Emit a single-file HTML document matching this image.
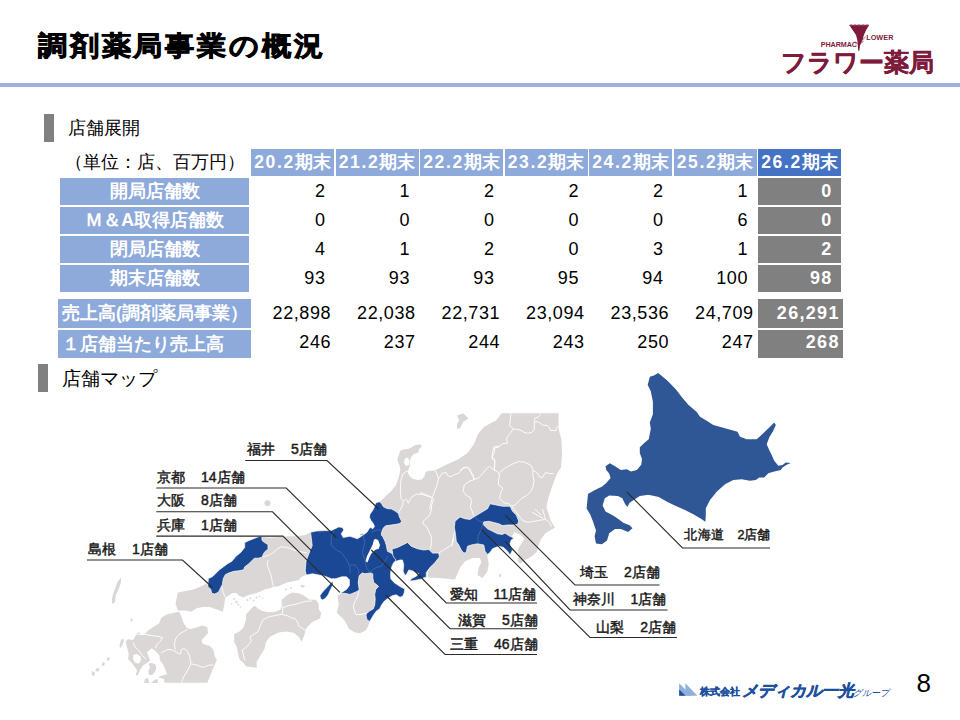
<!DOCTYPE html>
<html><head><meta charset="utf-8">
<style>
*{margin:0;padding:0;box-sizing:border-box}
html,body{width:960px;height:720px;overflow:hidden;background:#fff}
body{position:relative;font-family:"Liberation Sans",sans-serif;color:#000}
.abs{position:absolute}
#title{left:38px;top:27.5px;font-size:27px;font-weight:bold;white-space:nowrap;letter-spacing:2.45px;-webkit-text-stroke:0.8px #000;transform:scaleX(1.08);transform-origin:0 0}
#rule{left:0;top:83px;width:960px;height:4.2px;background:#9cb1dd}
.bar{background:#808080;width:10px;height:28px}
.sec{font-size:18px;white-space:nowrap}
.cell{position:absolute;height:27px;line-height:27px;font-size:17.5px;white-space:nowrap}
.n{letter-spacing:1.6px}
.hd{background:#8eaadb;color:#fff;font-weight:bold;text-align:center}
.hd7{background:#4472c4}
.lb{background:#8eaadb;color:#fff;font-weight:bold;text-align:center}
.v{text-align:right;padding-right:8.5px;font-size:18px;letter-spacing:0.6px}
.v2{padding-right:2.8px}
.l2{text-align:left;padding-left:4px}
.g{background:#808080;color:#fff;font-weight:bold;letter-spacing:1.3px}
.lbl{position:absolute;font-size:14px;font-weight:normal;color:#1a1a1a;white-space:nowrap;line-height:16px;-webkit-text-stroke:0.45px #1a1a1a}
.sp{display:inline-block;width:16px}
</style></head><body>
<div id="title" class="abs">調剤薬局事業の概況</div>
<div id="rule" class="abs"></div>
<div class="abs bar" style="left:44px;top:114px"></div>
<div class="abs sec" style="left:68px;top:116px">店舗展開</div>
<div class="abs" style="left:64.5px;top:150px;font-size:17.8px;white-space:nowrap">（単位：店、百万円）</div>
<div class="cell hd" style="left:251px;top:149px;width:83px"><span class="n">20.2</span>期末</div>
<div class="cell hd" style="left:335.5px;top:149px;width:83px"><span class="n">21.2</span>期末</div>
<div class="cell hd" style="left:420px;top:149px;width:83px"><span class="n">22.2</span>期末</div>
<div class="cell hd" style="left:504.5px;top:149px;width:83px"><span class="n">23.2</span>期末</div>
<div class="cell hd" style="left:589px;top:149px;width:83px"><span class="n">24.2</span>期末</div>
<div class="cell hd" style="left:673.5px;top:149px;width:83px"><span class="n">25.2</span>期末</div>
<div class="cell hd hd7" style="left:758px;top:149px;width:83px"><span class="n">26.2</span>期末</div>
<div class="cell lb" style="left:60px;top:178px;width:189px">開局店舗数</div>
<div class="cell v" style="left:251px;top:178px;width:83px">2</div>
<div class="cell v" style="left:335.5px;top:178px;width:83px">1</div>
<div class="cell v" style="left:420px;top:178px;width:83px">2</div>
<div class="cell v" style="left:504.5px;top:178px;width:83px">2</div>
<div class="cell v" style="left:589px;top:178px;width:83px">2</div>
<div class="cell v" style="left:673.5px;top:178px;width:83px">1</div>
<div class="cell v g" style="left:758px;top:178px;width:83px">0</div>
<div class="cell lb" style="left:60px;top:207px;width:189px">Ｍ＆A取得店舗数</div>
<div class="cell v" style="left:251px;top:207px;width:83px">0</div>
<div class="cell v" style="left:335.5px;top:207px;width:83px">0</div>
<div class="cell v" style="left:420px;top:207px;width:83px">0</div>
<div class="cell v" style="left:504.5px;top:207px;width:83px">0</div>
<div class="cell v" style="left:589px;top:207px;width:83px">0</div>
<div class="cell v" style="left:673.5px;top:207px;width:83px">6</div>
<div class="cell v g" style="left:758px;top:207px;width:83px">0</div>
<div class="cell lb" style="left:60px;top:236px;width:189px">閉局店舗数</div>
<div class="cell v" style="left:251px;top:236px;width:83px">4</div>
<div class="cell v" style="left:335.5px;top:236px;width:83px">1</div>
<div class="cell v" style="left:420px;top:236px;width:83px">2</div>
<div class="cell v" style="left:504.5px;top:236px;width:83px">0</div>
<div class="cell v" style="left:589px;top:236px;width:83px">3</div>
<div class="cell v" style="left:673.5px;top:236px;width:83px">1</div>
<div class="cell v g" style="left:758px;top:236px;width:83px">2</div>
<div class="cell lb" style="left:60px;top:265px;width:189px">期末店舗数</div>
<div class="cell v" style="left:251px;top:265px;width:83px">93</div>
<div class="cell v" style="left:335.5px;top:265px;width:83px">93</div>
<div class="cell v" style="left:420px;top:265px;width:83px">93</div>
<div class="cell v" style="left:504.5px;top:265px;width:83px">95</div>
<div class="cell v" style="left:589px;top:265px;width:83px">94</div>
<div class="cell v" style="left:673.5px;top:265px;width:83px">100</div>
<div class="cell v g" style="left:758px;top:265px;width:83px">98</div>
<div class="cell lb l2" style="left:58px;top:299px;width:193px;height:28.5px;line-height:28.5px">売上高(調剤薬局事業）</div>
<div class="cell v v2" style="left:251px;top:299px;width:83px;height:28.5px;line-height:28.5px">22,898</div>
<div class="cell v v2" style="left:335.5px;top:299px;width:83px;height:28.5px;line-height:28.5px">22,038</div>
<div class="cell v v2" style="left:420px;top:299px;width:83px;height:28.5px;line-height:28.5px">22,731</div>
<div class="cell v v2" style="left:504.5px;top:299px;width:83px;height:28.5px;line-height:28.5px">23,094</div>
<div class="cell v v2" style="left:589px;top:299px;width:83px;height:28.5px;line-height:28.5px">23,536</div>
<div class="cell v v2" style="left:673.5px;top:299px;width:83px;height:28.5px;line-height:28.5px">24,709</div>
<div class="cell v v2 g" style="left:758px;top:299px;width:84.5px;height:28.5px;line-height:28.5px">26,291</div>
<div class="cell lb l2" style="left:58px;top:329.5px;width:193px;height:28.5px;line-height:28.5px">１店舗当たり売上高</div>
<div class="cell v v2" style="left:251px;top:329.5px;width:83px;height:28.5px;line-height:25.5px">246</div>
<div class="cell v v2" style="left:335.5px;top:329.5px;width:83px;height:28.5px;line-height:25.5px">237</div>
<div class="cell v v2" style="left:420px;top:329.5px;width:83px;height:28.5px;line-height:25.5px">244</div>
<div class="cell v v2" style="left:504.5px;top:329.5px;width:83px;height:28.5px;line-height:25.5px">243</div>
<div class="cell v v2" style="left:589px;top:329.5px;width:83px;height:28.5px;line-height:25.5px">250</div>
<div class="cell v v2" style="left:673.5px;top:329.5px;width:83px;height:28.5px;line-height:25.5px">247</div>
<div class="cell v v2 g" style="left:758px;top:329.5px;width:84.5px;height:28.5px;line-height:25.5px">268</div>
<svg class="abs" style="left:0;top:0" width="960" height="720" viewBox="0 0 960 720">
<polygon points="501.7,413.3 558.6,413.3 558.6,429 561.5,440 562,455 561,467.5 557,473.75 553,484 548.75,496.7 546.7,505 546.7,508.3 550.8,520.8 555,527.8 552.2,529.2 545.3,533.3 541.1,538.9 538.3,545.8 537,551.4 532.8,555.6 528.6,558.3 523,561.1 520.3,563.9 517.5,561.1 518.9,555.6 517.5,550 521.7,543 524.4,538.9 520.3,534.7 514.7,532 512,536 513.5,538.5 511.25,540 510,543.75 512.5,550 510,555 507.5,551.25 503.75,547.5 498.75,546.25 492.5,548.75 490,552.5 487.5,554.4 487.5,557.5 488.75,563.75 487.5,571.25 482.5,578 477.5,575 478.75,567.5 481.25,562.5 480,558 472.5,558 465,561.25 460,567.5 457.5,573.75 455,579.4 447.5,578.75 438.75,578 427.5,577.5 426.25,576.9 420,579.4 413.75,580.6 410,581.25 411.25,578.75 416.25,576.25 418.75,573.75 413.75,571.25 408.75,570 406.9,573.75 405,575.6 403.1,571.25 403.75,565 402.5,560 400,560 396.9,560 393.75,562.5 391.9,566.25 390.6,572.5 390.75,578.75 394.1,582.6 400,586.5 404.8,589 404.3,592.4 402.9,596.2 400,597.2 396.1,594.8 392.2,595.75 388.3,598.2 384.4,601.1 381.5,605 379.6,608.9 376.6,610.8 373.7,614.7 370.8,619.6 369.4,622.5 367.9,626.4 366,630.25 360.1,633.2 354.3,632.2 348.5,628.3 347.5,625.4 344.6,620.5 340.7,616.6 336.8,612.8 338.75,604 337.8,598.2 337.8,595.3 341.7,592.4 346.5,589.4 349.4,585.5 349.4,579.7 346.5,576.8 341.7,576.8 335.8,578.75 331.25,578.75 325,576.25 318.75,575 312.5,573.75 306.25,575 301.25,577 298.9,580 293.6,581.3 287,582.6 278.3,586.25 273.3,586.7 270,588.3 265,589.2 260,591.7 255.8,593.3 251.7,594.2 246.7,595.8 243.3,597.5 239.2,595.8 236.7,593.3 232.5,592.9 228.3,595.8 225,598.3 224.7,603 222.75,611.8 216.8,609.4 209.8,607.1 202.7,607.1 196.8,608.3 190.9,611.8 186.1,610.6 177.9,610.6 175.5,603.5 176.25,600.3 177.8,592.5 185.6,591 193.4,589.4 201.25,586.25 207.5,583.1 207.8,586.4 208.3,578.6 212.6,576.6 215.5,573.7 219.4,569.8 223.3,566.9 227.2,564 232.1,561.1 236,556.2 240.8,552.4 244.7,547.5 244.7,542.6 248.6,540.7 253.5,538.7 257.3,537.3 259.8,536.3 263.75,537 270,537.8 279.4,537 288.75,536.25 298,536.25 306,534.7 310.6,532.3 316.25,531 325,530.6 331.25,530.6 335,528.75 338.75,526.9 342.5,527.5 343.75,530 341.25,533.75 343.1,537.5 346.25,536.9 350,536.25 353.75,537.5 357.5,538.75 361.25,536.25 365,533.75 367.2,532 369.5,528.1 371,527.4 372.6,528.9 374.5,526.6 373.3,523.5 371,520.5 369.5,517.4 369.9,514.4 372.6,510.6 374.5,506.7 375.6,502.9 379.4,501.8 381.4,500.6 385.6,496 390.9,491.5 394,487.5 396.1,485 398.9,476.7 400.3,469.7 399.6,465.6 397.8,461.4 397.5,457.9 399.2,454.4 399.9,451 403,449.6 407.9,448.9 411.4,447.5 414.2,445.4 418.3,444.4 421.1,444.7 421.8,446.8 419,448.9 418.3,452.4 414.9,453.75 412.8,455.1 410.7,457.9 410,461.4 410,465.6 408.6,469 407.9,472.5 409.3,476 412.8,478.75 417.6,480.1 421.8,479.4 424.6,476 425.3,472.5 428,471.1 433.6,470.4 437.8,469 444.7,465.6 457,460 467.5,453 473.75,444.6 478,434 484,427 490,423.6 495.8,420.7" fill="#dbd7d7"/>
<polygon points="246.1,614.3 251.4,608.4 254.7,605.7 258,608.4 262,611 268.5,612.3 275.1,611.7 280.4,609.7 281.7,605.1 281.7,599.8 287,595.2 292.3,592.5 298.9,593.2 304.2,595.8 309.4,599.8 316,599.8 318.7,603.7 318.7,609 321.3,613 320,618.3 312.1,622.2 306.8,627.5 305.5,630.1 304.2,635.4 301.5,642 298.9,636.7 293.6,632.8 285.7,631.5 277.8,632.8 269.9,636.7 265.9,642 264.6,648.6 260.6,655.2 256.7,661.8 256.7,667.7 251.4,667.1 246.1,666.4 243.5,663.1 239.5,659.2 238.2,653.9 236.9,647.3 234.2,642 234.2,634.1 239.5,631.5 243.5,627.5 246.1,619.6" fill="#dbd7d7"/>
<polygon points="179,611.8 181.4,616.5 183.8,623.6 187.3,628.3 190.9,628.9 196.8,627.2 202.7,625.4 207.4,627.2 208,633 205,636.6 201.5,640.2 202.7,643.7 209.8,646.1 213.3,649.6 214.5,655.5 216.8,660.2 214.5,665 212.1,670.9 209.8,676.8 207.4,682.7 164.6,682.75 163.9,678.9 157.8,677.4 160.8,675.9 166.9,674.3 165.4,669.8 163.1,664.4 160,660.6 159.3,655.2 155.5,651 151.6,648.3 147,652.2 148.6,656.8 150.1,660.6 146.3,663.6 143.5,665 140.2,669.8 137.6,675.5 135.6,675.1 137.1,670.5 134.8,666.7 131.8,662.9 128,659 128.7,653.7 125.6,641.5 128,639.2 133.3,640 137.1,633 139.4,632.3 140.9,635.4 144.8,634.6 148.6,630 153.1,627.2 159,623.6 161.3,617.7 167.2,614.2 173.1,613" fill="#dbd7d7"/>
<polygon points="457,415.4 463.3,413.3 468.5,418.5 463.3,421.7 460.2,428 457,429 457,423.75 459.2,420.6" fill="#dbd7d7"/>
<polygon points="133.3,655 137,654 140.5,656.5 141,660 139,663.5 135.5,663 133,659" fill="#fff"/>
<polygon points="403.9,462.8 405.1,458.2 407.6,457.4 409.6,460.6 409.2,464.8 406,466" fill="#fff"/>
<polygon points="148.6,663.5 152,662.9 155.5,664.5 156.2,668 155,672 152,675 149,675.1 148.3,671 150,667.5" fill="#dbd7d7"/>
<polygon points="121.2,577.3 120.8,583.3 118.3,590 115.8,595 115,601.7 112.5,604.2 111.7,600 113.3,593.3 115.8,586.7 117.5,581.7" fill="#dbd7d7"/>
<polygon points="130.5,618.5 132.5,618.8 132.6,621 130.8,621.5" fill="#dbd7d7"/>
<polygon points="108,657 110,658 108.5,661 106.5,660" fill="#dbd7d7"/>
<polygon points="144,683 145,679 148,678 149.3,683" fill="#dbd7d7"/>
<polygon points="151.6,683 154,680 157.8,679 157.8,683" fill="#dbd7d7"/>
<polygon points="119.5,645 121,640 123,638.5 124,641 122,646 120,648" fill="#dbd7d7"/>
<polygon points="103,662 105,663 104,666 101.5,665.5" fill="#dbd7d7"/>
<polygon points="97,668 99.5,668.5 98.5,671.5 95,671" fill="#dbd7d7"/>
<polygon points="92,671 95,672.5 94,676 91.5,675" fill="#dbd7d7"/>
<polygon points="499.5,573.5 501.5,574.5 500.5,577.5 499,576.5" fill="#dbd7d7"/>
<polygon points="301,585 305,585.5 304,587.5 300.5,587" fill="#dbd7d7"/>
<circle cx="267.5" cy="503.3" r="3" fill="#dbd7d7"/>
<circle cx="234" cy="599" r="1.1" fill="#dbd7d7"/>
<circle cx="236.5" cy="602" r="1.2" fill="#dbd7d7"/>
<circle cx="238.5" cy="604.5" r="0.9" fill="#dbd7d7"/>
<circle cx="247.5" cy="600" r="1" fill="#dbd7d7"/>
<circle cx="250.5" cy="598.5" r="1" fill="#dbd7d7"/>
<circle cx="253.5" cy="600.5" r="0.9" fill="#dbd7d7"/>
<circle cx="256.5" cy="597.5" r="1" fill="#dbd7d7"/>
<circle cx="259.5" cy="596.5" r="0.8" fill="#dbd7d7"/>
<circle cx="262.5" cy="598" r="0.8" fill="#dbd7d7"/>
<circle cx="240.5" cy="607" r="0.8" fill="#dbd7d7"/>
<circle cx="231.5" cy="604" r="0.8" fill="#dbd7d7"/>
<circle cx="286" cy="589.5" r="1" fill="#dbd7d7"/>
<circle cx="291" cy="588" r="0.9" fill="#dbd7d7"/>
<polyline points="510.9,413.4 510.4,418.8 509.5,425.6 513.3,429 518.2,429.5 522.1,430.9 524,432.4 527.9,433.3 531.8,432.4 534.3,430 534.3,422.6 536.7,421.7 539.6,422.6 542.5,425.1 547.4,425.6 549.8,428 550.3,430.4 556.1,430.4 557.1,427 558.6,426.5" fill="none" stroke="#fff" stroke-width="0.9" stroke-linejoin="round"/>
<polyline points="534.3,422.6 534.7,418.3 538.6,416.8 540.6,413.9" fill="none" stroke="#fff" stroke-width="0.9" stroke-linejoin="round"/>
<polyline points="513.3,429 509.5,434.3 506.5,438.2 507.5,443.1 502.6,443.6 499.7,446 493.9,447 492.9,450.9 491.9,457.7 494.9,461.6 494.4,464.2 494.4,470.4" fill="none" stroke="#fff" stroke-width="0.9" stroke-linejoin="round"/>
<polyline points="460,470.4 464.2,467.3 468.3,467.8 470.4,471.5 473.5,475.6 473.5,479.8 468.3,481.9 464.2,485 463.1,491.25 466.25,495.4 470.4,497.5 471.5,501.7 470.4,506.9 472.5,512.1 473.5,515.2 475.6,517.3" fill="none" stroke="#fff" stroke-width="0.9" stroke-linejoin="round"/>
<polyline points="473.5,479.8 478.75,477.7 481.9,474.6 485,470.4 489.2,466.25 493.3,469.4 498.5,472.5 499.6,475.6" fill="none" stroke="#fff" stroke-width="0.9" stroke-linejoin="round"/>
<polyline points="499.6,473.5 498.5,480.8 498.5,485 502.7,488.1 500.6,493.3 499.6,498.5 503.75,502.7 509,503.75 511,505.8" fill="none" stroke="#fff" stroke-width="0.9" stroke-linejoin="round"/>
<polyline points="499.6,472.5 504.8,468.3 512.1,464.2 518.3,461.6 524.6,462.1 530.8,465.2 532.9,469.4 532.9,475.6 534,480.8 532.9,487.1 530.8,491.25 526.7,495.4 521.5,498.5 517.3,502.7 514.2,505.8 511,505.8" fill="none" stroke="#fff" stroke-width="0.9" stroke-linejoin="round"/>
<polyline points="532.9,470.4 537.1,472.5 539.2,476.7 542.3,477.7 545.4,472.5 549.6,473.5 553.75,473.5" fill="none" stroke="#fff" stroke-width="0.9" stroke-linejoin="round"/>
<polyline points="512.1,506.9 516.25,512.1 519.4,516.25 522.5,520.4 527.7,522.5 532.9,521.5 539.2,520.4 545.4,519.4 549.6,522.5 551.7,526.7" fill="none" stroke="#fff" stroke-width="0.9" stroke-linejoin="round"/>
<polyline points="531.9,512.1 539.2,516.25 543.3,518.3" fill="none" stroke="#fff" stroke-width="0.9" stroke-linejoin="round"/>
<polyline points="535,509 541.25,515.2" fill="none" stroke="#fff" stroke-width="0.9" stroke-linejoin="round"/>
<polyline points="542.3,509 544.4,515.2 545.4,519" fill="none" stroke="#fff" stroke-width="0.9" stroke-linejoin="round"/>
<polyline points="434.6,469.6 437,474 438.5,478.9 436.5,486.6 432.6,496.4 430.7,503.2 429.7,510" fill="none" stroke="#fff" stroke-width="0.9" stroke-linejoin="round"/>
<polyline points="420,492.5 425.8,494.4 431.7,497.3" fill="none" stroke="#fff" stroke-width="0.9" stroke-linejoin="round"/>
<polyline points="438.5,478.9 442.4,473 446.2,472.6 448.2,476 450.1,476.9 454,475 458.9,473 462.8,468.2 467.6,467.2 470.5,470.1 471.5,474 473.4,476.9 474.4,479.8" fill="none" stroke="#fff" stroke-width="0.9" stroke-linejoin="round"/>
<polyline points="494.4,470.4 494.8,464.3 494.8,459.4 491.9,457.5 493.9,453.6 494.8,447.8 499.7,446.8" fill="none" stroke="#fff" stroke-width="0.9" stroke-linejoin="round"/>
<polyline points="409.3,470.4 405.8,471.8 403,473.9 401.7,478 400.9,480 400.4,487.8 400.9,498.5 403.3,500.9 405.3,499 407.2,500.4 408.2,503.3" fill="none" stroke="#fff" stroke-width="0.9" stroke-linejoin="round"/>
<polyline points="408.2,503.3 411.1,497.5 416,494.1 422.8,494.6 431.5,497.5 433.4,499.4" fill="none" stroke="#fff" stroke-width="0.9" stroke-linejoin="round"/>
<polyline points="433.4,499.4 431.5,505.7 431.4,510 429.4,515.8 423.6,520.7 422.6,523.6 426.5,526.5 429.4,532.4 431.4,537.2 431.4,544 430.4,548.9" fill="none" stroke="#fff" stroke-width="0.9" stroke-linejoin="round"/>
<polyline points="403.3,500.9 402.4,505.7 399.4,511.1 398.5,513.6" fill="none" stroke="#fff" stroke-width="0.9" stroke-linejoin="round"/>
<polyline points="439.2,552.8 446.9,547.9 451.8,545 453.7,539.2 453.7,534.3 455.7,529.4" fill="none" stroke="#fff" stroke-width="0.9" stroke-linejoin="round"/>
<polyline points="439.2,552.8 435.3,560.5 430.4,567.3 427.5,572.2 427.5,578" fill="none" stroke="#fff" stroke-width="0.9" stroke-linejoin="round"/>
<polyline points="452.9,538.3 451.9,546.1" fill="none" stroke="#fff" stroke-width="0.9" stroke-linejoin="round"/>
<polyline points="262.9,557.1 269.2,555 273.3,552.9 277.5,548.75 281.7,546.7 287.9,547.7 291,548.75 296.25,550.8 301.5,551.9 306.7,552.9" fill="none" stroke="#fff" stroke-width="0.9" stroke-linejoin="round"/>
<polyline points="268.1,560.2 267.1,564.4 269.2,570.6 271.25,575.8 272.3,582.1 273.3,586.25" fill="none" stroke="#fff" stroke-width="0.9" stroke-linejoin="round"/>
<polyline points="221.6,586.25 223.1,592.5 226.25,598.75 224.7,603.4" fill="none" stroke="#fff" stroke-width="0.9" stroke-linejoin="round"/>
<polyline points="358.6,576.5 358.2,582.6 358.6,589.4 358.2,595.3 355.5,600.5 353.3,606 354.5,611 356.2,614.7 360,614.5 365,613.7 369,612" fill="none" stroke="#fff" stroke-width="0.9" stroke-linejoin="round"/>
<polyline points="136.5,634.25 143.6,634.25 150.7,635.4 159,636.6 162.5,637.8 160.2,641.3 156.6,644.9 155.4,648.4" fill="none" stroke="#fff" stroke-width="0.9" stroke-linejoin="round"/>
<polyline points="133,642.5 135.35,647.2 138.9,650.8 142.4,655.5 146,659" fill="none" stroke="#fff" stroke-width="0.9" stroke-linejoin="round"/>
<polyline points="187.3,629.5 179,634.25 175.5,639 174.3,644.9 175.5,649.6" fill="none" stroke="#fff" stroke-width="0.9" stroke-linejoin="round"/>
<polyline points="161.3,653.1 167.2,649.6 172,649.6 177.9,653.1 180.2,654.3 181.4,649.6 183.8,648.4 187.3,650.8 189.7,656.7 190.9,663.8" fill="none" stroke="#fff" stroke-width="0.9" stroke-linejoin="round"/>
<polyline points="190.9,663.8 196.8,665 202.7,667.3 209.8,665 213.3,665" fill="none" stroke="#fff" stroke-width="0.9" stroke-linejoin="round"/>
<polyline points="190.9,663.8 187.3,670.9 183.8,676.8 181.4,682.7" fill="none" stroke="#fff" stroke-width="0.9" stroke-linejoin="round"/>
<polyline points="281.7,605.1 283,610.3 281.7,614.3" fill="none" stroke="#fff" stroke-width="0.9" stroke-linejoin="round"/>
<polyline points="283,607.7 288.3,605.7 294.9,604.4 301.5,602.4 306.8,601.1 312.1,601.1" fill="none" stroke="#fff" stroke-width="0.9" stroke-linejoin="round"/>
<polyline points="281.7,614.3 275.1,615.6 268.5,616.9 263.3,619.6 260.6,624.9 258,631.5 254,634.1 250.1,636.7 251.4,640.7 248.7,644.6 244.8,648.6 242.2,649.9 243.5,655.2 244.8,660.5" fill="none" stroke="#fff" stroke-width="0.9" stroke-linejoin="round"/>
<polyline points="281.7,614.3 287,615.6 292.3,618.3 294.9,618.3 297.6,622.2 298.9,626.2 302.8,628.8 305.5,630.1" fill="none" stroke="#fff" stroke-width="0.9" stroke-linejoin="round"/>
<polygon points="375.6,502.9 379.4,501.8 381.7,503.7 383.3,506.7 387.1,508.6 391.7,509 395.5,511.3 398.5,513.6 399.3,516.7 401.6,521.25 400.1,523.5 396.25,524.3 390.9,525.1 385.6,525.8 383.3,528.1 381.7,532 381.25,535 382.5,536.25 385,541.25 386.25,545 387.5,551.25 392.5,553.75 396.25,556.9 396.9,560 393.75,562.5 391.9,566.25 390.6,572.5 390.75,578.75 394.1,582.6 400,586.5 404.8,589 404.3,592.4 402.9,596.2 400,597.2 396.1,594.8 392.2,595.75 388.3,598.2 384.4,601.1 381.5,605 379.6,608.9 376.6,610.8 373.7,614.7 370.8,619.6 369.4,621.5 366.9,619.6 366,615.7 366.4,613.7 369.8,610.8 373.2,608.9 374.7,605 375.2,599.2 374.7,594.3 375.7,589.4 378.6,586.5 376.6,584.6 373.7,582.6 372.8,577.8 372.8,573.9 370.8,572.9 365,573.75 362,572.9 359.2,575.8 358.2,582.6 359.2,589.4 357.2,591.4 350,594.4 344.6,593.3 341.7,593.3 338.5,595 341.7,592.4 346.5,589.4 349.4,585.5 349.4,579.7 346.5,576.8 341.7,576.8 335.8,578.75 331.25,578.75 325,576.25 318.75,575 312.5,573.75 306.25,575 305.2,570.6 306,561.25 309,553.4 312.2,545.6 310.6,532.3 316.25,531 325,530.6 331.25,530.6 335,528.75 338.75,526.9 342.5,527.5 343.75,530 341.25,533.75 343.1,537.5 346.25,536.9 350,536.25 353.75,537.5 357.5,538.75 361.25,536.25 365,533.75 367.2,532 369.5,528.1 371,527.4 372.6,528.9 374.5,526.6 373.3,523.5 371,520.5 369.5,517.4 369.9,514.4 372.6,510.6 374.5,506.7" fill="#1a4895" stroke="#fff" stroke-width="0.7" stroke-linejoin="round"/>
<polygon points="320,595.6 323.1,591.25 326.9,587.5 330.6,583.1 332.75,581.25 333.1,584.4 330.6,589.4 328.1,595 325,598.75 322.25,600 320.4,598.1" fill="#1a4895" stroke="#fff" stroke-width="0.7" stroke-linejoin="round"/>
<polygon points="392,549 397.5,547.5 402.5,545 407.5,542.5 411.25,546.25 417.5,548.75 423.75,550 428.75,549.4 432.5,553.1 438.75,553.1 439.4,556.9 435,562.5 430,567.5 426.25,572.5 426.25,576.9 420,579.4 413.75,580.6 410,581.25 411.25,578.75 416.25,576.25 418.75,573.75 413.75,571.25 408.75,570 406.9,573.75 405,575.6 403.1,571.25 403.75,565 402.5,560 400,560 396.25,561.25 395,558.75 393,556" fill="#1a4895" stroke="#fff" stroke-width="0.7" stroke-linejoin="round"/>
<polygon points="259.8,536.3 261.7,536.3 262.2,540.7 264.6,542.6 268,544.6 268,549.4 265.1,551.4 263.2,554.3 262.2,557.2 258.3,558.2 254.4,558.2 251.5,561.1 248.6,564 244.7,566.9 243.7,569.8 238.9,570.8 234,571.3 229.2,572.8 225.3,574.7 223.3,578.6 222.4,584.4 220.4,588.3 218.5,592.2 214.6,594.1 211.7,593.2 210.7,589.3 207.8,586.4 208.3,578.6 212.6,576.6 215.5,573.7 219.4,569.8 223.3,566.9 227.2,564 232.1,561.1 236,556.2 240.8,552.4 244.7,547.5 244.7,542.6 248.6,540.7 253.5,538.7 257.3,537.3" fill="#1a4895" stroke="#fff" stroke-width="0.7" stroke-linejoin="round"/>
<polygon points="455,521.25 460,516.9 465,518.75 470,519.4 475,516.25 481.25,512.5 487.5,508.75 490,503.75 496.25,505 502.5,506.25 510,506.25 512.5,511.25 516.25,515 518.75,521.25 517.5,524.4 512.5,525 507.5,525 502.5,525.6 498.75,523.75 493.75,522.5 488.75,521.25 483.75,521.9 483.1,524.4 487.5,528.75 492.5,531.25 497.5,533.75 502.5,534.4 505,533.1 508.75,535.6 513.75,538.1 511.25,540 510,543.75 512.5,550 510,555 507.5,551.25 503.75,547.5 498.75,546.25 492.5,548.75 490,552.5 487.5,554.4 485,551.25 483.75,545 477.5,543.75 471.25,545 467.5,546.25 466.25,552.5 463.75,553.1 461.25,550 458.75,545 456.25,541.25 455.6,535 454.4,527.5" fill="#1a4895" stroke="#fff" stroke-width="0.7" stroke-linejoin="round"/>
<polyline points="333.75,531.25 331.25,536.25 331.25,545 336.25,550 341.25,552.5 345,557.5 347.5,561.25 350,567.5 350,573.75" fill="none" stroke="#5478bb" stroke-width="0.6" stroke-linejoin="round"/>
<polyline points="350,565 355,565 358.75,570 358.75,575" fill="none" stroke="#5478bb" stroke-width="0.6" stroke-linejoin="round"/>
<polyline points="363.75,546.25 362.5,552.5 365,560 366.25,567.5 370,572.5" fill="none" stroke="#5478bb" stroke-width="0.6" stroke-linejoin="round"/>
<polyline points="360,535 362.5,533.75 365,542.5 363.75,546.25" fill="none" stroke="#5478bb" stroke-width="0.6" stroke-linejoin="round"/>
<polyline points="370,572.5 372.5,570 376.25,567.5 381.25,566.25 385,561.25 387.5,556.25" fill="none" stroke="#5478bb" stroke-width="0.6" stroke-linejoin="round"/>
<polyline points="371.25,532.5 376.25,530 381.25,530" fill="none" stroke="#5478bb" stroke-width="0.6" stroke-linejoin="round"/>
<polyline points="475,516.25 477,519.5 481,522 483.75,521.9" fill="none" stroke="#5478bb" stroke-width="0.6" stroke-linejoin="round"/>
<polyline points="483.1,524.4 481,530 478,536 478,543.75" fill="none" stroke="#5478bb" stroke-width="0.6" stroke-linejoin="round"/>
<polygon points="375,538.75 378.1,540 380,545 378.75,548.75 375,550 371.25,553.75 369.4,557.5 367.5,562.5 365.6,561.25 366.9,556.25 369.4,551.25 372.5,545 373.75,540.6" fill="#fff"/>
<polygon points="649.8,376.7 654,375.6 658.1,372.9 661.25,375.6 667.5,380.8 675.8,389.2 682.1,397.5 688.3,404.8 696.7,412.1 700,416.7 706.7,420.8 713.3,425 725,428.3 737.5,431.7 740,436.7 746.7,439.2 756.7,439.2 763.3,433.3 770,426.7 774.2,422.5 775.8,425 773.3,430.8 769.2,437.5 766.7,444.2 769.2,450 771.7,455 774.2,460.8 778.3,465.8 782.5,465 785.8,462.5 790.8,463 786.7,464.7 782.5,467.5 780.8,470 773.3,471.7 768.3,473.3 764.2,477.5 759.2,477.5 755.8,480 750,480.8 741.7,479.2 733.3,480 725,484.2 716.7,491.7 710,500 705.8,508.3 705.8,515 705.4,521.7 701,518.75 693.75,514.4 685,510 674.8,505.6 667.5,502 658.75,496.9 648.5,494.7 639.8,496.1 634,499.8 629.6,502.7 627.4,507 625.2,504.2 622.3,498.3 617.9,496.1 609.2,495.4 604.8,498.3 602.6,505.6 605.5,511.5 613.5,515.8 617.9,518.75 623.75,523.1 629.6,525.3 632.5,528.2 628.1,531.9 620.8,529 615,529 609.2,533.3 607,540.6 601.9,544.3 596,543.5 594.6,536.25 596,530.4 593.1,521.7 590.2,514.4 586.6,508.5 587.3,501.25 588,494 593.1,491 599,488.1 601.9,486.7 606.25,483 610.6,477.9 609.2,473.5 606.25,469.9 605.5,466.25 609.9,463.3 615,466.25 620.8,469.9 626.7,469.2 631,471.4 636.9,470 641.25,464.8 642,459 639.8,453.1 639.8,447.3 644.2,442.9 647.8,440 648.75,439.2 650.8,428.75 649.8,422.5 652.9,414.2 652.9,401.7 650.8,391.25 647.7,385" fill="#2f5695"/>
<polyline points="245.2,460.5 327,460.5 378.75,509" fill="none" stroke="#2b2b2b" stroke-width="1.1"/>
<polyline points="156.25,488 286.25,488 336.4,537.5" fill="none" stroke="#2b2b2b" stroke-width="1.1"/>
<polyline points="156.25,511.8 272.5,511.8 312.1,551.4" fill="none" stroke="#2b2b2b" stroke-width="1.1"/>
<polyline points="156.25,536.1 282.9,536.1 339.9,592.4" fill="none" stroke="#2b2b2b" stroke-width="1.1"/>
<polyline points="87,560 182.5,560 212.5,587.5" fill="none" stroke="#2b2b2b" stroke-width="1.1"/>
<polyline points="537,603 446.25,603 413.75,570" fill="none" stroke="#2b2b2b" stroke-width="1.1"/>
<polyline points="537,628.75 450,628.75 371.25,550" fill="none" stroke="#2b2b2b" stroke-width="1.1"/>
<polyline points="537,654.5 445,654.5 385.6,595" fill="none" stroke="#2b2b2b" stroke-width="1.1"/>
<polyline points="659.5,585 575,585 505,515" fill="none" stroke="#2b2b2b" stroke-width="1.1"/>
<polyline points="667.5,610 570,610 505,541.25" fill="none" stroke="#2b2b2b" stroke-width="1.1"/>
<polyline points="677,637.5 590,637.5 481.25,529.4" fill="none" stroke="#2b2b2b" stroke-width="1.1"/>
<polyline points="770,548 682.5,548 626.7,491.8" fill="none" stroke="#2b2b2b" stroke-width="1.1"/>
<path d="M849.4,25.2 L869,25.2 L866.2,30 L863.9,35 L862.5,40 L860.1,45 L859.3,50.8 L858.2,50.8 L857.8,45 L857.3,40 L856,35 L852.6,30 Z" fill="#7e1a3c"/>
<path d="M849.4,25.4 Q851,24.2 853,25.4 Q855,24.2 857,25.4 Q859,24.2 861,25.4 Q863,24.2 865,25.4 Q867,24.2 869,25.4" fill="none" stroke="#7e1a3c" stroke-width="0.8"/>
<path d="M860.6,41.5 L865.5,37 M860.2,44 L863.5,41.2 M858,44.5 L855.2,41.5" stroke="#7e1a3c" stroke-width="0.7" fill="none"/>
<polygon points="679.2,683.3 679.2,695.8 691.7,695.8" fill="#8fb0dc"/>
<polygon points="685.4,683.3 685.4,695.8 697.4,695.8" fill="#8fb0dc"/>
<polygon points="679.2,689.4 679.2,695.8 685.6,695.8" fill="#1e50a0"/>
</svg>
<div class="lbl" style="left:247px;top:440.5px">福井<span class="sp"></span>5店舗</div>
<div class="lbl" style="left:157px;top:468.7px">京都<span class="sp"></span>14店舗</div>
<div class="lbl" style="left:157px;top:492.2px">大阪<span class="sp"></span>8店舗</div>
<div class="lbl" style="left:157px;top:517.45px">兵庫<span class="sp"></span>1店舗</div>
<div class="lbl" style="left:88px;top:541.2px">島根<span class="sp"></span>1店舗</div>
<div class="lbl" style="left:449.5px;top:585.7px">愛知<span class="sp"></span>11店舗</div>
<div class="lbl" style="left:458px;top:611.7px">滋賀<span class="sp"></span>5店舗</div>
<div class="lbl" style="left:450px;top:636.2px">三重<span class="sp"></span>46店舗</div>
<div class="lbl" style="left:580px;top:563.7px">埼玉<span class="sp"></span>2店舗</div>
<div class="lbl" style="left:572.5px;top:591.2px">神奈川<span class="sp"></span>1店舗</div>
<div class="lbl" style="left:596.25px;top:618.7px">山梨<span class="sp"></span>2店舗</div>
<div class="lbl" style="left:684.2px;top:526.9000000000001px;font-size:12.6px"><span style="letter-spacing:0.4px">北海道</span><span class="sp" style="width:13px"></span>2店舗</div>
<div class="abs" style="left:820.8px;top:40.8px;font-size:7.2px;font-weight:bold;color:#7e1a3c;letter-spacing:-0.1px;white-space:nowrap;line-height:8px">PHARMAC</div>
<div class="abs" style="left:866.2px;top:33.8px;font-size:7.2px;font-weight:bold;color:#7e1a3c;letter-spacing:0.1px;white-space:nowrap;line-height:8px">LOWER</div>
<div class="abs" style="left:781px;top:47px;font-size:25px;font-weight:bold;color:#7e1a3c;white-space:nowrap;line-height:30px;-webkit-text-stroke:0.4px #7e1a3c">フラワー薬局</div>
<div class="abs" style="left:699.5px;top:685.5px;font-size:10px;font-weight:bold;color:#1e50a0;white-space:nowrap;line-height:12px;-webkit-text-stroke:0.3px #1e50a0">株式会社</div>
<div class="abs" style="left:742px;top:681.5px;font-size:16px;font-weight:bold;font-style:italic;color:#1e50a0;white-space:nowrap;line-height:18px;-webkit-text-stroke:0.5px #1e50a0">メディカル一光</div>
<div class="abs" style="left:853px;top:687.5px;font-size:9px;font-style:italic;color:#1e50a0;white-space:nowrap;line-height:11px">グループ</div>
<div class="abs" style="left:916.5px;top:668px;font-size:26px;color:#000;white-space:nowrap;line-height:30px">8</div>
<div class="abs bar" style="left:38px;top:364px"></div>
<div class="abs sec" style="left:62px;top:366px;font-size:19px">店舗マップ</div>
</body></html>
